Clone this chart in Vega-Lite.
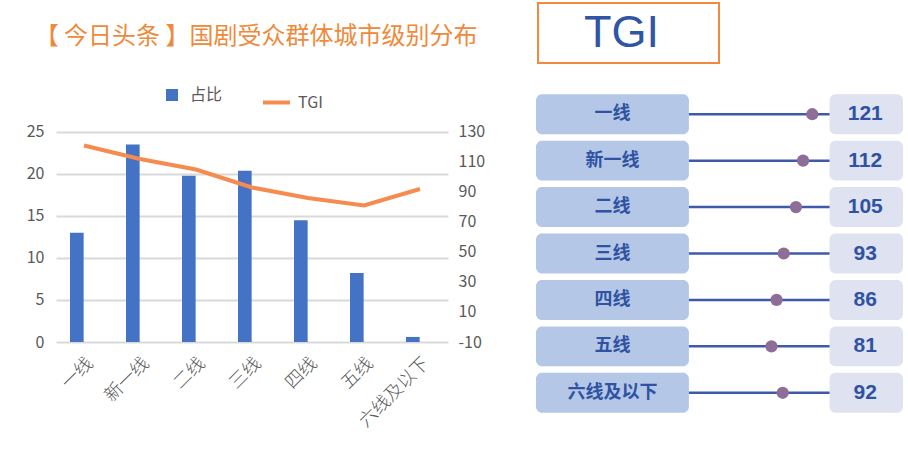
{
  "$schema": "https://vega.github.io/schema/vega-lite/v6.json",
  "background": "white",
  "padding": {"left": 26, "top": 2, "right": 0, "bottom": 0},
  "spacing": 27,
  "config": {
    "view": {"stroke": null},
    "font": "Noto Sans CJK SC"
  },
  "vconcat": [
    {
      "spacing": 29,
      "hconcat": [
        {
          "width": 452,
          "height": 60,
          "data": {"values": [{"t": "【 今日头条 】国剧受众群体城市级别分布"}]},
          "mark": {"type": "text", "fontSize": 24, "color": "#EE8A3C", "font": "Noto Sans CJK SC", "dy": 4, "dx": -26},
          "encoding": {"text": {"field": "t"}}
        },
        {
          "width": 181,
          "height": 60,
          "view": {"stroke": "#F4883F", "strokeWidth": 2},
          "data": {"values": [{"t": "TGI"}]},
          "mark": {"type": "text", "font": "Liberation Sans", "fontSize": 45, "color": "#2F55A4", "dx": -7},
          "encoding": {"text": {"field": "t"}}
        }
      ]
    },
    {
      "spacing": 50,
      "hconcat": [
        {
          "width": 392,
          "height": 251,
          "data": {
            "values": [
              {"city": "一线", "share": 13.0, "tgi": 121},
              {"city": "新一线", "share": 23.5, "tgi": 112},
              {"city": "二线", "share": 19.8, "tgi": 105},
              {"city": "三线", "share": 20.4, "tgi": 93},
              {"city": "四线", "share": 14.5, "tgi": 86},
              {"city": "五线", "share": 8.2, "tgi": 81},
              {"city": "六线及以下", "share": 0.6, "tgi": 92}
            ]
          },
          "layer": [
            {
              "mark": {"type": "bar"},
              "encoding": {
                "x": {
                  "field": "city", "type": "nominal", "sort": null,
                  "scale": {"paddingInner": 0.5, "paddingOuter": 0.25},
                  "axis": {
                    "title": null, "labelAngle": -45, "labelFontSize": 18,
                    "labelColor": "#595959", "domain": false, "ticks": false,
                    "labelPadding": 12, "labelFontWeight": 300
                  }
                },
                "xOffset": {"datum": "占比", "scale": {"domain": ["占比", "TGI"], "paddingInner": 0.05}},
                "y": {
                  "field": "share", "type": "quantitative",
                  "scale": {"domain": [0, 29.88], "nice": false},
                  "axis": {
                    "title": null, "values": [0, 5, 10, 15, 20, 25], "grid": true,
                    "gridColor": "#D9D9D9", "gridWidth": 2, "domain": false, "ticks": false,
                    "labelFontSize": 16, "labelColor": "#595959", "labelPadding": 12
                  }
                },
                "fill": {
                  "datum": "占比",
                  "scale": {"domain": ["占比"], "range": ["#4472C4"]},
                  "legend": {
                    "orient": "none", "legendX": 108, "legendY": 84, "title": null,
                    "labelFontSize": 16, "labelColor": "#595959", "symbolType": "square",
                    "symbolSize": 144, "labelOffset": 10, "symbolStrokeWidth": 0
                  }
                }
              }
            },
            {
              "mark": {"type": "line", "strokeWidth": 4},
              "encoding": {
                "x": {"field": "city", "type": "nominal", "sort": null},
                "y": {
                  "field": "tgi", "type": "quantitative",
                  "scale": {"domain": [-10, 157.33], "nice": false, "zero": false},
                  "axis": {
                    "orient": "right", "title": null,
                    "values": [-10, 10, 30, 50, 70, 90, 110, 130],
                    "labelExpr": "replace(datum.label, '−', '-')",
                    "grid": false, "domain": false, "ticks": false,
                    "labelFontSize": 16, "labelColor": "#595959", "labelPadding": 10
                  }
                },
                "stroke": {
                  "datum": "TGI",
                  "scale": {"domain": ["TGI"], "range": ["#F68B4F"]},
                  "legend": {
                    "orient": "none", "legendX": 205, "legendY": 84, "title": null,
                    "labelFontSize": 16, "labelColor": "#595959", "symbolType": "stroke",
                    "symbolSize": 729, "symbolStrokeWidth": 4, "labelOffset": 6
                  }
                }
              }
            }
          ],
          "resolve": {"scale": {"y": "independent"}}
        },
        {
          "width": 370,
          "height": 325,
          "data": {
            "values": [
              {"city": "一线", "tgi": 121},
              {"city": "新一线", "tgi": 112},
              {"city": "二线", "tgi": 105},
              {"city": "三线", "tgi": 93},
              {"city": "四线", "tgi": 86},
              {"city": "五线", "tgi": 81},
              {"city": "六线及以下", "tgi": 92}
            ]
          },
          "encoding": {
            "y": {
              "field": "city", "type": "nominal", "sort": null, "axis": null,
              "scale": {"paddingInner": 0.14, "paddingOuter": 0.07}
            }
          },
          "layer": [
            {
              "mark": {"type": "rect", "color": "#B4C7E7", "cornerRadius": 6},
              "encoding": {
                "x": {"datum": -150, "type": "quantitative", "scale": {"domain": [-151, 212], "nice": false, "zero": false}, "axis": null},
                "x2": {"datum": 0}
              }
            },
            {
              "mark": {"type": "rect", "color": "#DEE2F1", "cornerRadius": 6},
              "encoding": {
                "x": {"datum": 138, "type": "quantitative"},
                "x2": {"datum": 210}
              }
            },
            {
              "mark": {"type": "rule", "color": "#3F5AA8", "strokeWidth": 2.5},
              "encoding": {
                "x": {"datum": 0, "type": "quantitative"},
                "x2": {"datum": 138}
              }
            },
            {
              "mark": {"type": "circle", "color": "#8E6E98", "size": 150, "opacity": 1},
              "encoding": {
                "x": {"field": "tgi", "type": "quantitative"}
              }
            },
            {
              "mark": {"type": "text", "color": "#2F52A2", "fontSize": 18, "fontWeight": "bold"},
              "encoding": {
                "x": {"datum": -75, "type": "quantitative"},
                "text": {"field": "city"}
              }
            },
            {
              "mark": {"type": "text", "color": "#2F52A2", "fontSize": 21, "fontWeight": "bold", "font": "Liberation Sans"},
              "encoding": {
                "x": {"datum": 173, "type": "quantitative"},
                "text": {"field": "tgi"}
              }
            }
          ]
        }
      ]
    }
  ]
}
